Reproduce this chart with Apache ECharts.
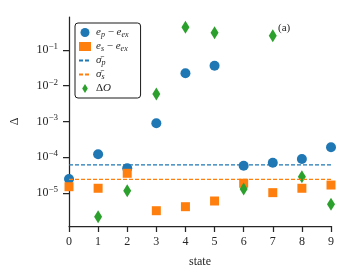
<!DOCTYPE html>
<html><head><meta charset="utf-8">
<script src="https://cdn.jsdelivr.net/npm/echarts@6/dist/echarts.min.js"></script>
<style>html,body{margin:0;padding:0;background:#fff}#c{width:349px;height:280px}</style>
</head><body><div id="c"></div>
<script>
const states = [0,1,2,3,4,5,6,7,8,9];
const epErr = [2.44e-5, 1.20e-4, 4.85e-5, 8.85e-4, 2.22e-2, 3.63e-2, 5.74e-5, 6.97e-5, 8.86e-5, 1.88e-4];
const esErr = [1.48e-5, 1.34e-5, 3.52e-5, 3.15e-6, 4.08e-6, 5.89e-6, 1.85e-5, 1.01e-5, 1.34e-5, 1.65e-5];
const deltaO = [null, 2.14e-6, 1.15e-5, 5.86e-3, 0.432, 0.305, 1.28e-5, 0.252, 2.83e-5, 4.77e-6];
const sigmaP = 6.01e-5;
const sigmaS = 2.39e-5;
const yTicks = [1e-5, 1e-4, 1e-3, 1e-2, 1e-1];
const xTicks = [0,1,2,3,4,5,6,7,8,9];

const FONT = '"Liberation Serif", "DejaVu Serif", serif';
const INK = '#262626';
const pts = arr => states.map((s,i) => [s, arr[i]]).filter(p => p[1] != null);
const span = v => [[states[0], v], [states[states.length-1], v]];

const legendText = {
  ep: '{i|e}{sub|p}{n| − }{i|e}{sub|ex}',
  es: '{i|e}{sub|s}{n| − }{i|e}{sub|ex}',
  sp: '{i|σ̄}{sub|p}',
  ss: '{i|σ̄}{sub|s}',
  dO: '{n|Δ}{i|O}'
};

const chart = echarts.init(document.getElementById('c'), null, {renderer:'canvas'});
chart.setOption({
  animation: false,
  grid: {left: 69, right: 18, top: 17, bottom: 54},
  xAxis: {
    type: 'value', min: 0, max: 9, interval: 1,
    name: 'state', nameLocation: 'middle', nameGap: 30,
    nameTextStyle: {fontFamily: FONT, fontSize: 12, color: INK},
    axisLine: {lineStyle: {color: INK, width: 1.25}},
    axisTick: {length: 6, lineStyle: {color: INK, width: 1.25}, customValues: xTicks},
    axisLabel: {fontFamily: FONT, fontSize: 12, color: INK, margin: 10, customValues: xTicks},
    splitLine: {show: false}
  },
  yAxis: {
    type: 'log', logBase: 10, min: 1.175e-6, max: 0.84,
    name: 'Δ', nameLocation: 'middle', nameGap: 48, nameRotate: 90,
    nameTextStyle: {fontFamily: FONT, fontSize: 12, color: INK},
    axisLine: {lineStyle: {color: INK, width: 1.25}},
    axisTick: {length: 6, lineStyle: {color: INK, width: 1.25}, customValues: yTicks},
    axisLabel: {
      margin: 11, customValues: yTicks,
      formatter: v => '{b|10}{s|−' + Math.round(-Math.log10(v)) + '}',
      rich: {
        b: {fontFamily: FONT, fontSize: 12, color: INK},
        s: {fontFamily: FONT, fontSize: 9, color: INK, padding: [0,0,7,0]}
      }
    },
    splitLine: {show: false}
  },
  legend: {
    orient: 'vertical', left: 75, top: 23,
    padding: [4, 12, 4, 3],
    itemWidth: 12, itemHeight: 9, itemGap: 2.5,
    borderColor: '#1a1a1a', borderWidth: 1, borderRadius: 3,
    backgroundColor: 'rgba(255,255,255,0.85)',
    data: [
      {name: 'ep', icon: 'circle'},
      {name: 'es', icon: 'rect'},
      {name: 'sp', itemStyle: {opacity: 0}},
      {name: 'ss', itemStyle: {opacity: 0}},
      {name: 'dO', icon: 'path://M0,-1.6L1,0L0,1.6L-1,0Z'}
    ],
    formatter: n => legendText[n],
    textStyle: {
      color: INK,
      rich: {
        i: {fontFamily: FONT, fontStyle: 'italic', fontSize: 11, color: INK},
        n: {fontFamily: FONT, fontSize: 11, color: INK},
        sub: {fontFamily: FONT, fontStyle: 'italic', fontSize: 8, color: INK, padding: [4,0,0,0]}
      }
    }
  },
  graphic: [{
    type: 'text', left: 278, top: 23,
    style: {text: '(a)', fontFamily: FONT, fontSize: 11, fill: INK}
  }],
  series: [
    {name: 'ep', type: 'scatter', data: pts(epErr), symbol: 'circle', symbolSize: 10, clip: false,
     itemStyle: {color: '#1f77b4', opacity: 1}, z: 2},
    {name: 'es', type: 'scatter', data: pts(esErr), symbol: 'rect', symbolSize: 9, clip: false,
     itemStyle: {color: '#ff7f0e', opacity: 1}, z: 3},
    {name: 'sp', type: 'line', data: span(sigmaP), symbol: 'none', clip: false,
     lineStyle: {color: '#1f77b4', width: 1.25, type: [4, 2]}, itemStyle: {color: '#1f77b4'}, z: 5},
    {name: 'ss', type: 'line', data: span(sigmaS), symbol: 'none', clip: false,
     lineStyle: {color: '#ff7f0e', width: 1.25, type: [4, 2]}, itemStyle: {color: '#ff7f0e'}, z: 5},
    {name: 'dO', type: 'scatter', data: pts(deltaO), symbol: 'diamond', symbolSize: [8, 13], clip: false,
     itemStyle: {color: '#2ca02c', opacity: 1}, z: 4}
  ]
});
</script></body></html>
